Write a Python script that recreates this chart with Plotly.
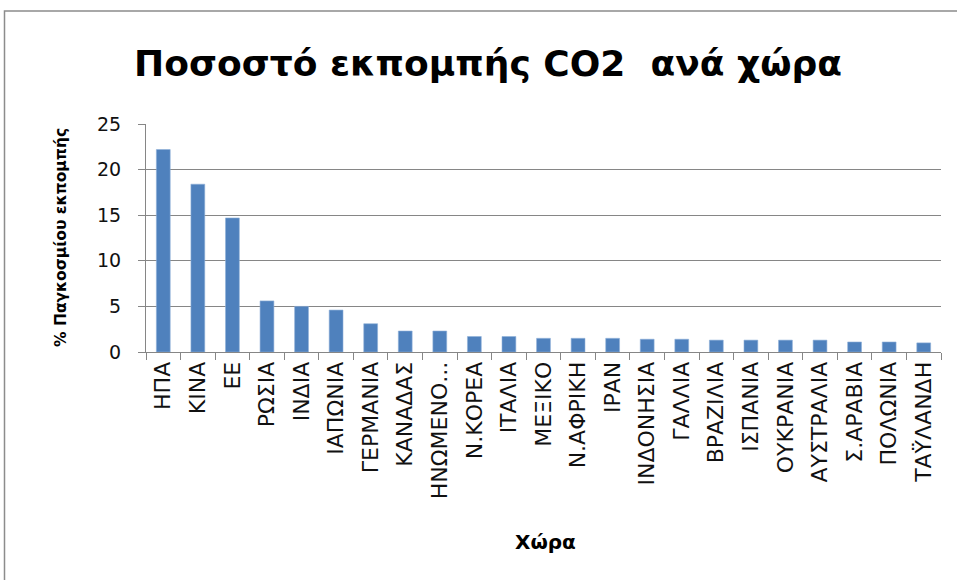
import plotly.graph_objects as go

# Share of global CO2 emissions per country (%)
countries = ["ΗΠΑ", "ΚΙΝΑ", "ΕΕ", "ΡΩΣΙΑ", "ΙΝΔΙΑ", "ΙΑΠΩΝΙΑ", "ΓΕΡΜΑΝΙΑ", "ΚΑΝΑΔΑΣ",
             "ΗΝΩΜΕΝΟ...", "Ν.ΚΟΡΕΑ", "ΙΤΑΛΙΑ", "ΜΕΞΙΚΟ", "Ν.ΑΦΡΙΚΗ", "ΙΡΑΝ", "ΙΝΔΟΝΗΣΙΑ",
             "ΓΑΛΛΙΑ", "ΒΡΑΖΙΛΙΑ", "ΙΣΠΑΝΙΑ", "ΟΥΚΡΑΝΙΑ", "ΑΥΣΤΡΑΛΙΑ", "Σ.ΑΡΑΒΙΑ",
             "ΠΟΛΩΝΙΑ", "ΤΑΫΛΑΝΔΗ"]
share = [22.2, 18.4, 14.7, 5.6, 5.0, 4.6, 3.1, 2.3, 2.3, 1.7, 1.7, 1.5, 1.5, 1.5, 1.4,
         1.4, 1.3, 1.3, 1.3, 1.3, 1.1, 1.1, 1.0]
y_ticks = [0, 5, 10, 15, 20, 25]

title_text = "Ποσοστό εκπομπής CO2  ανά χώρα"
x_title = "Χώρα"
y_title = "% Παγκοσμίου εκπομπής"

W, H = 957, 580
L, R, T, B = 146, 16, 124, 228
pw, ph = W - L - R, H - T - B

def px_to_paper_x(px):
    return (px - L) / pw

def px_to_paper_y(py):
    return (H - B - py) / ph

font = "'DejaVu Sans', Verdana, sans-serif"
axis_grey = "#868686"

fig = go.Figure(go.Bar(
    x=countries, y=share,
    marker=dict(color="#4F81BD", line=dict(color="#8FB0D8", width=0.6)),
))

fig.update_layout(
    width=W, height=H,
    margin=dict(l=L, r=R, t=T, b=B),
    paper_bgcolor="white", plot_bgcolor="white",
    bargap=0.6,
    showlegend=False,
    title=dict(text="<b>" + title_text + "</b>", xref="paper", x=px_to_paper_x(488),
               xanchor="center", yref="container", y=1 - 63 / H, yanchor="middle",
               font=dict(family=font, size=36, color="black")),
    xaxis=dict(
        type="category", tickangle=-90, tickson="boundaries",
        ticks="outside", ticklen=7, tickcolor=axis_grey,
        showline=True, linecolor=axis_grey, linewidth=1,
        tickfont=dict(family=font, size=22, color="#111111"),
        automargin=False,
    ),
    yaxis=dict(
        range=[0, 25], tickvals=y_ticks,
        ticks="outside", ticklen=7, tickcolor=axis_grey,
        ticklabelstandoff=13,
        showline=True, linecolor=axis_grey, linewidth=1,
        showgrid=True, gridcolor=axis_grey, gridwidth=1,
        zeroline=False,
        tickfont=dict(family=font, size=19, color="#111111"),
        automargin=False,
    ),
)

# axis titles
fig.add_annotation(text="<b>" + x_title + "</b>", xref="paper", yref="paper",
                   x=px_to_paper_x(545), y=px_to_paper_y(542),
                   xanchor="center", yanchor="middle", showarrow=False,
                   font=dict(family=font, size=20, color="black"))
fig.add_annotation(text="<b>" + y_title + "</b>", xref="paper", yref="paper",
                   x=px_to_paper_x(61), y=px_to_paper_y(238), textangle=-90,
                   xanchor="center", yanchor="middle", showarrow=False,
                   font=dict(family=font, size=15.5, color="black"))

# chart-area frame
fig.add_shape(type="rect", xref="paper", yref="paper",
              x0=px_to_paper_x(4.5), x1=px_to_paper_x(990),
              y0=px_to_paper_y(600), y1=px_to_paper_y(11),
              line=dict(color="#8C8C8C", width=1.5), fillcolor="rgba(0,0,0,0)", layer="below")

fig.write_html("out.html")
